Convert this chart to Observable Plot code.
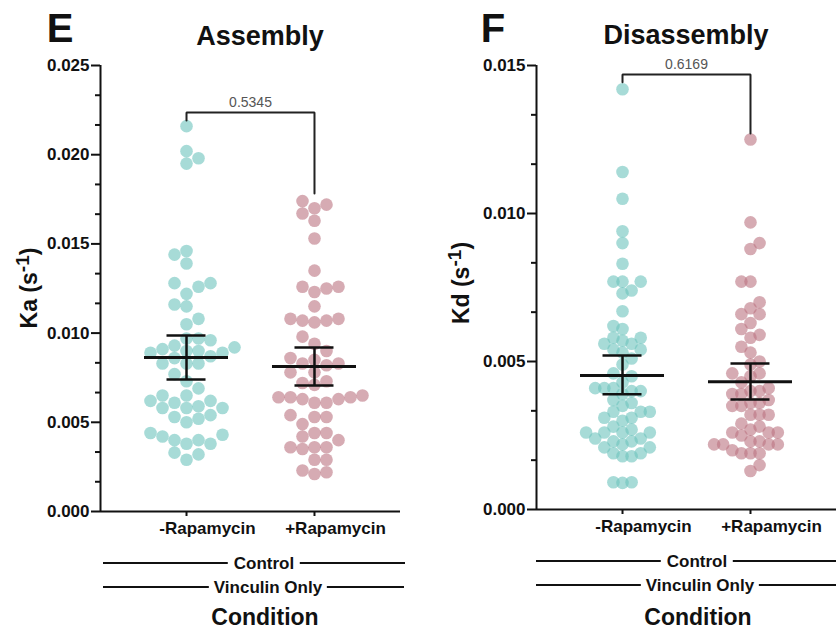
<!DOCTYPE html>
<html><head><meta charset="utf-8">
<script src="https://cdn.jsdelivr.net/npm/d3@7"></script>
<script src="https://cdn.jsdelivr.net/npm/@observablehq/plot@0.6"></script>
<style>
body{margin:0;background:#fff;}
#root{position:relative;width:836px;height:631px;overflow:hidden;font-family:"Liberation Sans",Arial,sans-serif;color:#111;background:#fff;}
.abs{position:absolute;white-space:nowrap;line-height:1;}
.hline{position:absolute;height:2px;background:#111;}
.panel{position:absolute;top:50px;}
</style></head>
<body><div id="root"></div>
<script>
// ---------- data ----------
const categories = ["-Rapamycin", "+Rapamycin"];
const groupRows = ["Control", "Vinculin Only"];
const xTitle = "Condition";
const panelLetters = ["E", "F"];
const panelTitles = ["Assembly", "Disassembly"];
const yTitles = ["Ka (s<sup>-1</sup>)", "Kd (s<sup>-1</sup>)"];

const assemblyMinus = [0.0216, 0.0202, 0.0198, 0.0195,
  0.0146, 0.0144, 0.0139, 0.0128, 0.0128, 0.0126, 0.0122, 0.0116, 0.0115, 0.0108, 0.0105,
  0.0097, 0.0097, 0.0096, 0.0093, 0.0092, 0.0091, 0.0090, 0.0090, 0.0089, 0.0089, 0.0087, 0.0086, 0.0083, 0.0083, 0.0083,
  0.0077, 0.0073, 0.0069, 0.0065, 0.0065, 0.0062, 0.0062, 0.0061, 0.0058, 0.0058, 0.0058, 0.0059, 0.0054, 0.0053, 0.0052, 0.0050,
  0.0044, 0.0043, 0.0042, 0.0040, 0.0040, 0.0038, 0.0038, 0.0033, 0.0032, 0.0029];
const assemblyPlus = [0.0174, 0.0172, 0.0170, 0.0167, 0.0163, 0.0153, 0.0135, 0.0126, 0.0126, 0.0125, 0.0123, 0.0115,
  0.0108, 0.0108, 0.0107, 0.0107, 0.0106, 0.0098, 0.0094, 0.0090, 0.0086, 0.0085, 0.0083, 0.0083, 0.0082, 0.0078, 0.0078,
  0.0073, 0.0072, 0.0071, 0.0065, 0.0064, 0.0064, 0.0064, 0.0063, 0.0063, 0.0061, 0.0061, 0.0054, 0.0053, 0.0053, 0.0049,
  0.0044, 0.0044, 0.0042, 0.0040, 0.0036, 0.0036, 0.0036, 0.0035, 0.0029, 0.0029, 0.0023, 0.0022, 0.0021];
const disassemblyMinus = [0.0142, 0.0114, 0.0105, 0.0094, 0.0090, 0.0083, 0.0077, 0.0077, 0.0077, 0.0073, 0.0074, 0.0067,
  0.0062, 0.0061, 0.0058, 0.0056, 0.0057, 0.0058, 0.0056, 0.0054, 0.0054, 0.0053, 0.0051, 0.0049, 0.0046, 0.0045, 0.0043,
  0.0041, 0.0040, 0.0041, 0.0040, 0.0041, 0.0039, 0.0037, 0.0036, 0.0035, 0.0033, 0.0031, 0.0031, 0.0033, 0.0033, 0.0030,
  0.0027, 0.0028, 0.0026, 0.0026, 0.0026, 0.0026, 0.0024, 0.0022, 0.0023, 0.0024, 0.0023, 0.0021, 0.0019, 0.0019, 0.0018,
  0.0021, 0.0018, 0.0009, 0.00092, 0.00092];
const disassemblyPlus = [0.0125, 0.0097, 0.0090, 0.0088, 0.0077, 0.0077, 0.0070, 0.0066, 0.0068, 0.0066, 0.0063, 0.0061,
  0.0059, 0.0058, 0.0055, 0.0053, 0.0050, 0.0049, 0.0046, 0.0045, 0.0046, 0.0040, 0.0040, 0.0041, 0.0039, 0.0043, 0.0037,
  0.0039, 0.0036, 0.0035, 0.0036, 0.0035, 0.0032, 0.0032, 0.0032, 0.0029, 0.0026, 0.0025, 0.0027, 0.0028, 0.0026, 0.0026,
  0.0022, 0.0023, 0.0022, 0.0022, 0.0023, 0.0022, 0.0020, 0.0019, 0.0019, 0.0019, 0.0015, 0.0013];

const assemblyMean = [0.00863, 0.00813];
const assemblyUpper = [0.00987, 0.00919];
const assemblyLower = [0.00740, 0.00706];
const disassemblyMean = [0.00453, 0.00432];
const disassemblyUpper = [0.00520, 0.00493];
const disassemblyLower = [0.00389, 0.00372];

const assemblyP = "0.5345";
const disassemblyP = "0.6169";
const assemblyBracket = [0.02192, 0.02237, 0.01783];   // left end, top, right end
const disassemblyBracket = [0.01443, 0.01470, 0.01270];

const assemblyTicks = [0, 0.005, 0.010, 0.015, 0.020, 0.025];
const disassemblyTicks = [0, 0.005, 0.010, 0.015];

const colors = ["#6cc3bc", "#bb7380"];

// ---------- layout helpers ----------
const root = document.getElementById("root");
function txt(html, x, y, size, o = {}) {
  const d = document.createElement("div");
  d.className = "abs";
  d.innerHTML = html;
  d.style.left = x + "px"; d.style.top = y + "px";
  d.style.fontSize = size + "px";
  d.style.fontWeight = o.weight || "bold";
  d.style.transform = "translate(-50%,-50%)" + (o.rotate ? " rotate(-90deg)" : "");
  if (o.bg != null) { d.style.background = "#fff"; d.style.padding = "0 " + o.bg + "px"; }
  root.appendChild(d);
}
function hline(x1, x2, y) {
  const d = document.createElement("div");
  d.className = "hline";
  d.style.left = x1 + "px"; d.style.width = (x2 - x1) + "px"; d.style.top = (y - 1) + "px";
  root.appendChild(d);
}

const catX = [0.2867, 0.7133];

function swarm(values, cx, ys, pxPerUnit, step, minDist) {
  const pts = values.map(v => ({v, py: ys.apply(v)})).sort((a, b) => b.py - a.py);
  const placed = [];
  let toggle = 1;
  for (const p of pts) {
    for (let k = 0; k < 60; k++) {
      const cands = k === 0 ? [0] : [toggle * k, -toggle * k];
      let found = null;
      for (const c of cands) {
        const px = c * step;
        if (placed.every(q => Math.hypot(q.px - px, q.py - p.py) >= minDist)) { found = px; break; }
      }
      if (found !== null) { p.px = found; if (k > 0) toggle = -toggle; break; }
    }
    placed.push(p);
  }
  return pts.map(p => ({value: p.v, x: cx + p.px / pxPerUnit}));
}

function panel(o) {
  const width = 400, height = 495, marginLeft = 100, marginRight = 0, marginTop = 15;
  const xs = Plot.scale({x: {domain: [0, 1], range: [marginLeft, width - marginRight]}});
  const ys = Plot.scale({y: {domain: o.yDomain, range: [height - o.marginBottom, marginTop]}});
  const pxPerUnit = xs.apply(1) - xs.apply(0);
  const swarms = o.groups.map((vals, i) => swarm(vals, catX[i], ys, pxPerUnit, o.step, o.minDist));
  const stats = o.mean.map((m, i) => ({x: catX[i], mean: m, upper: o.upper[i], lower: o.lower[i]}));
  const minorStep = 0.005 / 3;
  const minor = d3.range(0, Math.round(o.yDomain[1] / minorStep) + 1).filter(i => i % 3 !== 0).map(i => i * minorStep);
  const b = o.bracket;
  const bracketPts = [{x: catX[0], y: b[0]}, {x: catX[0], y: b[1]}, {x: catX[1], y: b[1]}, {x: catX[1], y: b[2]}];
  return Plot.plot({
    width, height, marginLeft, marginRight, marginTop, marginBottom: o.marginBottom,
    x: {domain: [0, 1]},
    y: {domain: o.yDomain},
    style: {fontFamily: "'Liberation Sans', Arial, sans-serif", fontWeight: "bold", fontSize: "17px", color: "#111", background: "transparent", overflow: "visible"},
    marks: [
      ...swarms.map((s, i) => Plot.dot(s, {x: "x", y: "value", r: 6.3, fill: colors[i], fillOpacity: 0.6})),
      Plot.axisY({ticks: minor, tickSize: 5, tickFormat: () => "", strokeWidth: 2, label: null}),
      Plot.axisY({ticks: o.yTicks, tickSize: 9, tickPadding: 2, tickFormat: d3.format(".3f"), strokeWidth: 2, fontSize: 17, fontWeight: "bold", label: null}),
      Plot.axisX({ticks: catX, tickSize: 5, tickFormat: () => "", strokeWidth: 2, label: null}),
      Plot.axisX({ticks: catX, tickSize: 0, tickPadding: 10, tickFormat: d => categories[catX.indexOf(d)], dx: 21, fontSize: 17, fontWeight: "bold", label: null}),
      Plot.ruleX([0], {strokeWidth: 2}),
      Plot.ruleY([o.yDomain[0]], {strokeWidth: 2}),
      Plot.ruleY(stats, {y: "mean", x1: d => d.x - 0.14, x2: d => d.x + 0.14, strokeWidth: 3}),
      Plot.ruleX(stats, {x: "x", y1: "lower", y2: "upper", strokeWidth: 2.5}),
      Plot.ruleY(stats, {y: "upper", x1: d => d.x - 0.065, x2: d => d.x + 0.065, strokeWidth: 2.5}),
      Plot.ruleY(stats, {y: "lower", x1: d => d.x - 0.065, x2: d => d.x + 0.065, strokeWidth: 2.5}),
      Plot.line(bracketPts, {x: "x", y: "y", stroke: "#222", strokeWidth: 2, strokeLinejoin: "miter"}),
      Plot.text([o.p], {x: (catX[0] + catX[1]) / 2, y: b[1], text: d => d, lineAnchor: "bottom", dy: -5, fontSize: 14, fontWeight: "normal", fill: "#555"})
    ]
  });
}

const svgE = panel({groups: [assemblyMinus, assemblyPlus], yDomain: [0, 0.025], yTicks: assemblyTicks, marginBottom: 34,
  mean: assemblyMean, upper: assemblyUpper, lower: assemblyLower, bracket: assemblyBracket, p: assemblyP, step: 12, minDist: 11.5});
const svgF = panel({groups: [disassemblyMinus, disassemblyPlus], yDomain: [0, 0.015], yTicks: disassemblyTicks, marginBottom: 36,
  mean: disassemblyMean, upper: disassemblyUpper, lower: disassemblyLower, bracket: disassemblyBracket, p: disassemblyP, step: 9.1, minDist: 9.0});
const wE = document.createElement("div"); wE.className = "panel"; wE.style.left = "0px"; wE.appendChild(svgE); root.appendChild(wE);
const wF = document.createElement("div"); wF.className = "panel"; wF.style.left = "436px"; wF.appendChild(svgF); root.appendChild(wF);

// ---------- text around the plots ----------
txt(panelLetters[0], 60, 27.5, 40);
txt(panelLetters[1], 493, 27.5, 40);
txt(panelTitles[0], 260, 36, 27);
txt(panelTitles[1], 686, 35, 27);
txt(yTitles[0], 27, 288, 23, {rotate: true});
txt(yTitles[1], 459, 283, 23, {rotate: true});

hline(103, 405, 563); txt(groupRows[0], 264, 563, 17, {bg: 6});
hline(103, 404, 587); txt(groupRows[1], 268, 587, 17, {bg: 5});
txt(xTitle, 265, 617, 23);

hline(536, 836, 561); txt(groupRows[0], 697, 561, 17, {bg: 6});
hline(536, 836, 585); txt(groupRows[1], 700, 585, 17, {bg: 5});
txt(xTitle, 698, 617, 23);
</script></body></html>
